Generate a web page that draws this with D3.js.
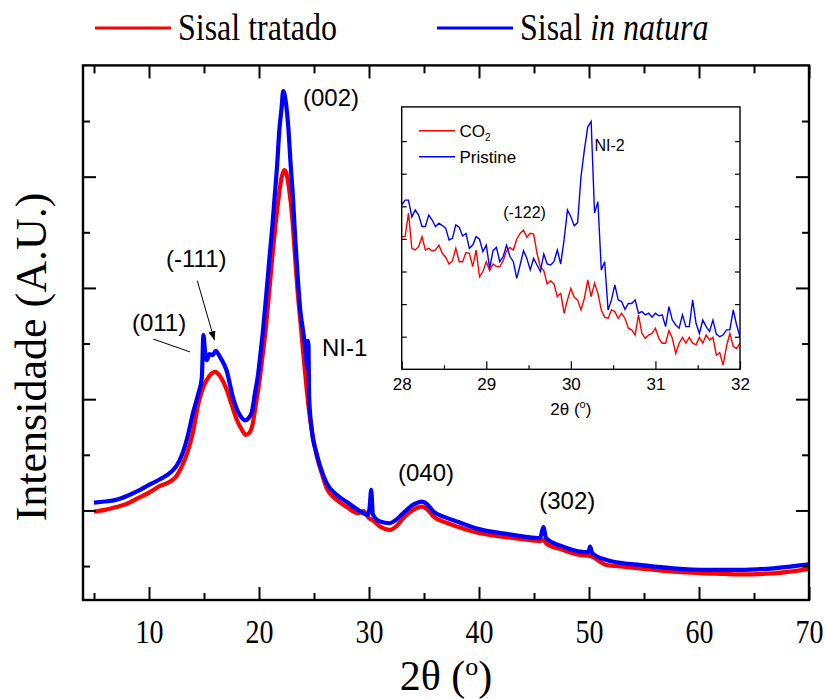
<!DOCTYPE html>
<html>
<head>
<meta charset="utf-8">
<script src="https://cdn.jsdelivr.net/npm/d3@7"></script>
<style>
  html, body { margin: 0; padding: 0; background: #fff; }
  svg { display: block; }
</style>
</head>
<body>
<div id="chart"></div>
<script>
// ---------- Main diffractogram: 2θ (degrees) vs intensity (kcounts) ----------
const tratadoTheta = [5.0, 6.0, 7.0, 8.0, 9.0, 10.0, 11.0, 12.0, 12.5, 13.0, 13.5, 14.0, 14.5, 15.0, 15.5, 16.0, 16.5, 17.0, 17.5, 18.0, 18.5, 18.8, 19.1, 19.4, 19.7, 20.0, 20.3, 20.6, 20.9, 21.2, 21.5, 21.8, 22.05, 22.3, 22.5, 22.75, 23.0, 23.25, 23.5, 23.75, 24.0, 24.3, 24.6, 24.9, 25.3, 25.7, 26.15, 27.0, 28.0, 29.0, 29.5, 30.0, 30.3, 31.0, 31.9, 32.5, 33.1, 34.0, 34.8, 35.3, 35.85, 36.9, 38.0, 40.1, 42.1, 44.1, 45.55, 45.85, 46.1, 47.65, 49.2, 50.1, 51.6, 53.1, 54.6, 57.65, 60.7, 63.7, 66.75, 70.0];
const tratadoIntensity = [1.98, 2.01, 2.06, 2.12, 2.22, 2.32, 2.44, 2.53, 2.62, 2.80, 3.05, 3.41, 3.93, 4.25, 4.42, 4.49, 4.40, 4.20, 3.91, 3.62, 3.43, 3.36, 3.39, 3.53, 3.89, 4.27, 4.74, 5.24, 5.87, 6.54, 7.13, 7.65, 7.98, 8.12, 8.05, 7.76, 7.31, 6.64, 5.96, 5.42, 4.88, 4.25, 3.71, 3.32, 2.94, 2.67, 2.40, 2.20, 2.06, 1.95, 1.99, 1.86, 1.83, 1.71, 1.65, 1.72, 1.86, 2.01, 2.07, 2.02, 1.89, 1.79, 1.71, 1.59, 1.53, 1.48, 1.45, 1.47, 1.41, 1.29, 1.20, 1.18, 1.02, 0.99, 0.96, 0.90, 0.87, 0.85, 0.87, 0.95];

const naturaTheta = [5.0, 6.0, 7.0, 8.0, 9.0, 10.0, 11.0, 12.0, 12.5, 13.0, 13.5, 14.0, 14.5, 14.8, 14.95, 15.1, 15.25, 15.5, 15.8, 16.05, 16.45, 17.05, 17.65, 18.1, 18.45, 18.75, 19.05, 19.35, 19.65, 19.9, 20.15, 20.35, 20.65, 20.95, 21.2, 21.4, 21.65, 21.85, 22.05, 22.2, 22.3, 22.45, 22.65, 22.85, 23.1, 23.3, 23.55, 23.75, 24.0, 24.25, 24.4, 24.45, 24.5, 24.55, 24.8, 25.2, 25.55, 26.15, 27.0, 28.0, 29.0, 29.9, 30.05, 30.2, 30.35, 31.0, 31.9, 32.45, 33.1, 34.0, 34.8, 35.3, 35.85, 36.9, 38.0, 40.1, 42.1, 44.1, 45.55, 45.85, 46.1, 47.65, 49.2, 49.95, 50.1, 50.3, 51.6, 53.1, 54.6, 57.65, 60.7, 63.7, 66.75, 70.0];
const naturaIntensity = [2.14, 2.16, 2.19, 2.26, 2.35, 2.46, 2.56, 2.69, 2.80, 3.00, 3.32, 3.75, 4.11, 4.38, 5.15, 4.85, 4.70, 4.81, 4.79, 4.87, 4.76, 4.52, 4.02, 3.77, 3.66, 3.62, 3.66, 3.77, 4.13, 4.42, 4.85, 5.21, 5.85, 6.54, 7.08, 7.58, 8.21, 8.84, 9.23, 9.54, 9.50, 9.32, 8.93, 8.30, 7.58, 6.86, 6.11, 5.60, 5.24, 4.85, 4.56, 5.05, 4.97, 4.07, 3.44, 3.05, 2.80, 2.49, 2.29, 2.15, 2.01, 1.92, 2.04, 2.37, 1.93, 1.80, 1.77, 1.83, 1.95, 2.10, 2.16, 2.11, 1.98, 1.88, 1.80, 1.66, 1.59, 1.53, 1.50, 1.70, 1.50, 1.35, 1.26, 1.25, 1.35, 1.23, 1.11, 1.05, 1.02, 0.96, 0.93, 0.93, 0.96, 1.03];

const seriesNames = ["Sisal tratado", "Sisal in natura"];
const xMajorTicks = [10, 20, 30, 40, 50, 60, 70];
const xMinorTicks = [5, 15, 25, 35, 45, 55, 65];
const yMajorTicks = [2, 4, 6, 8];
const yMinorTicks = [1, 3, 5, 7, 9];

// Reflection labels (text, 2θ, intensity at the text baseline)
const peakLabels = ["(002)", "(-111)", "(011)", "NI-1", "(040)", "(302)"];
const peakLabelTheta = [24.0, 11.55, 8.45, 25.73, 32.64, 45.48];
const peakLabelIntensity = [9.27, 6.38, 5.23, 4.78, 2.53, 2.02];

// ---------- Inset: 28–32° zoom ----------
const insetTheta = [28.00, 28.04, 28.08, 28.12, 28.16, 28.20, 28.24, 28.28, 28.32, 28.36,
  28.40, 28.44, 28.48, 28.52, 28.56, 28.60, 28.64, 28.68, 28.72, 28.76,
  28.80, 28.84, 28.88, 28.92, 28.96, 29.00, 29.04, 29.08, 29.12, 29.16,
  29.20, 29.24, 29.28, 29.32, 29.36, 29.40, 29.44, 29.48, 29.52, 29.56,
  29.60, 29.64, 29.68, 29.72, 29.76, 29.80, 29.84, 29.88, 29.92, 29.96,
  30.00, 30.04, 30.08, 30.12, 30.16, 30.20, 30.24, 30.28, 30.32, 30.36,
  30.40, 30.44, 30.48, 30.52, 30.56, 30.60, 30.64, 30.68, 30.72, 30.76,
  30.80, 30.84, 30.88, 30.92, 30.96, 31.00, 31.04, 31.08, 31.12, 31.16,
  31.20, 31.24, 31.28, 31.32, 31.36, 31.40, 31.44, 31.48, 31.52, 31.56,
  31.60, 31.64, 31.68, 31.72, 31.76, 31.80, 31.84, 31.88, 31.92, 31.96,
  32.00];
const insetCO2 = [4.07, 4.07, 4.79, 3.71, 3.66, 3.76, 4.07, 3.66, 3.71, 3.63,
  3.66, 3.81, 3.56, 3.44, 3.23, 3.33, 3.71, 3.30, 3.30, 3.58,
  3.56, 3.15, 3.66, 2.84, 3.00, 3.30, 3.03, 3.23, 3.15, 3.15,
  3.33, 3.64, 3.74, 3.66, 3.99, 4.17, 4.27, 4.05, 4.17, 4.15,
  3.56, 3.13, 3.03, 2.62, 2.72, 2.62, 2.23, 2.33, 1.72, 2.13,
  2.48, 2.21, 2.13, 1.82, 2.18, 2.74, 2.23, 2.64, 2.33, 1.82,
  1.60, 1.56, 1.82, 1.77, 1.56, 1.72, 1.56, 1.26, 1.21, 1.05,
  1.67, 1.10, 0.95, 1.05, 1.10, 1.26, 0.95, 0.80, 0.80, 1.19,
  0.95, 0.49, 0.80, 0.98, 0.80, 0.98, 0.80, 0.75, 0.98, 0.80,
  1.05, 0.90, 0.98, 0.44, 0.51, 0.13, 0.70, 1.10, 0.70, 0.64,
  0.80];
const insetPristine = [5.04, 5.19, 5.19, 4.68, 4.89, 4.73, 4.38, 4.38, 4.73, 4.58,
  4.38, 4.48, 4.41, 4.33, 3.97, 4.02, 4.43, 4.36, 4.09, 4.17,
  3.71, 3.81, 4.07, 3.99, 3.61, 3.81, 3.10, 3.64, 3.74, 3.30,
  3.46, 3.81, 3.46, 3.30, 2.79, 3.20, 3.64, 3.40, 3.05, 3.40,
  3.20, 3.00, 3.54, 3.23, 3.20, 3.30, 3.66, 3.23, 3.97, 4.89,
  4.68, 4.40, 4.50, 5.91, 6.73, 7.44, 7.60, 4.79, 5.14, 3.05,
  3.30, 1.82, 2.13, 2.59, 2.13, 2.08, 1.84, 2.02, 2.02, 2.13,
  1.72, 1.77, 1.67, 1.72, 1.60, 1.72, 1.64, 1.67, 1.31, 1.92,
  1.51, 1.36, 1.26, 1.67, 1.31, 1.31, 2.13, 1.41, 1.10, 1.51,
  1.31, 1.16, 1.51, 1.08, 1.00, 1.05, 1.21, 1.21, 1.82, 1.36,
  1.00];
const insetXTicks = [28, 29, 30, 31, 32];
const insetXMinor = [28.5, 29.5, 30.5, 31.5];
const insetYTicks = [1, 2, 3, 4, 5, 6, 7];
const insetLabels = ["(-122)", "NI-2"];
const insetLabelTheta = [29.20, 30.28];
const insetLabelIntensity = [4.64, 6.71];

// ---------- Drawing ----------
const W = 825, H = 699;
const RED = "#ff0000", BLUE = "#0000ff";
const SERIF = "'Liberation Serif', 'Times New Roman', Times, serif";
const SANS = "'Liberation Sans', Arial, Helvetica, sans-serif";
const SERIF_STRETCH = 1.2;   // serif lettering is drawn a little taller than wide

const svg = d3.select("#chart").append("svg")
  .attr("width", W).attr("height", H)
  .attr("viewBox", `0 0 ${W} ${H}`);

const plot = { left: 83, right: 809, top: 65.4, bottom: 600 };
const x = d3.scaleLinear().domain([4, 70]).range([plot.left, plot.right]);
const y = d3.scaleLinear().domain([0.39, 10]).range([plot.bottom, plot.top]);

const zip = (xs, ys) => xs.map((v, i) => [v, ys[i]]);
const mainLine = d3.line().x(d => x(d[0])).y(d => y(d[1])).curve(d3.curveMonotoneX);

// curves: treated first, untreated on top
svg.append("path").datum(zip(tratadoTheta, tratadoIntensity))
  .attr("d", mainLine).attr("fill", "none").attr("stroke", RED)
  .attr("stroke-width", 4.2).attr("stroke-linejoin", "round");
svg.append("path").datum(zip(naturaTheta, naturaIntensity))
  .attr("d", mainLine).attr("fill", "none").attr("stroke", BLUE)
  .attr("stroke-width", 4.2).attr("stroke-linejoin", "round");

// axes with inward major/minor ticks on all four sides
function tickAxis(axisFn, scale, values, size, translate, labels) {
  const ax = axisFn(scale).tickValues(values).tickSize(-size)
    .tickFormat(labels ? d3.format("d") : "");
  const g = svg.append("g").attr("transform", translate).call(ax);
  g.select(".domain").remove();
  g.selectAll(".tick line").attr("stroke", "#000").attr("stroke-width", 2);
  return g;
}
const bx = tickAxis(d3.axisBottom, x, xMajorTicks, 13, `translate(0,${plot.bottom})`, true);
bx.selectAll(".tick text").attr("font-family", SERIF).attr("font-size", 28)
  .attr("fill", "#000").attr("dy", 0).attr("y", 0)
  .attr("transform", `translate(0,43) scale(1,${SERIF_STRETCH})`);
tickAxis(d3.axisBottom, x, xMinorTicks, 7, `translate(0,${plot.bottom})`, false);
tickAxis(d3.axisTop, x, xMajorTicks, 13, `translate(0,${plot.top})`, false);
tickAxis(d3.axisTop, x, xMinorTicks, 8, `translate(0,${plot.top})`, false);
tickAxis(d3.axisLeft, y, yMajorTicks, 13, `translate(${plot.left},0)`, false);
tickAxis(d3.axisLeft, y, yMinorTicks, 7, `translate(${plot.left},0)`, false);
tickAxis(d3.axisRight, y, yMajorTicks, 13, `translate(${plot.right},0)`, false);
tickAxis(d3.axisRight, y, yMinorTicks, 7, `translate(${plot.right},0)`, false);

svg.append("rect")
  .attr("x", plot.left).attr("y", plot.top)
  .attr("width", plot.right - plot.left).attr("height", plot.bottom - plot.top)
  .attr("fill", "none").attr("stroke", "#000").attr("stroke-width", 2.4);

// axis titles
const xt = svg.append("text")
  .attr("x", (plot.left + plot.right) / 2).attr("y", 690)
  .attr("text-anchor", "middle").attr("font-family", SERIF).attr("font-size", 42);
xt.append("tspan").text("2θ (");
xt.append("tspan").attr("font-size", 26).attr("dy", -15).text("o");
xt.append("tspan").attr("dy", 15).text(")");

svg.append("text")
  .attr("transform", `translate(46,357) rotate(-90)`)
  .attr("text-anchor", "middle").attr("font-family", SERIF).attr("font-size", 44)
  .text("Intensidade (A.U.)");

// legend above the frame
const legend = [
  { name: seriesNames[0], color: RED, x0: 95 },
  { name: seriesNames[1], color: BLUE, x0: 437 }
];
legend.forEach((d, i) => {
  svg.append("line").attr("x1", d.x0).attr("x2", d.x0 + 76).attr("y1", 28).attr("y2", 28)
    .attr("stroke", d.color).attr("stroke-width", 3);
  const t = svg.append("text")
    .attr("transform", `translate(${d.x0 + 83},40) scale(1,${SERIF_STRETCH})`)
    .attr("font-family", SERIF).attr("font-size", 32);
  if (i === 0) {
    t.text(d.name);
  } else {
    t.append("tspan").text("Sisal ");
    t.append("tspan").attr("font-style", "italic").text("in natura");
  }
});

// reflection labels
peakLabels.forEach((lab, i) => {
  svg.append("text").attr("x", x(peakLabelTheta[i])).attr("y", y(peakLabelIntensity[i]))
    .attr("font-family", SANS).attr("font-size", 24).attr("fill", "#000").text(lab);
});

// leader line for (011) and arrow for (-111)
svg.append("line")
  .attr("x1", x(10.39)).attr("y1", y(5.08)).attr("x2", x(13.73)).attr("y2", y(4.85))
  .attr("stroke", "#000").attr("stroke-width", 1);
svg.append("defs").append("marker").attr("id", "arrowHead")
  .attr("viewBox", "0 0 10 10").attr("refX", 10).attr("refY", 5)
  .attr("markerWidth", 9).attr("markerHeight", 9).attr("markerUnits", "userSpaceOnUse")
  .attr("orient", "auto")
  .append("path").attr("d", "M0,1 L10,5 L0,9 Z").attr("fill", "#000");
svg.append("line")
  .attr("x1", x(14.39)).attr("y1", y(6.13)).attr("x2", x(15.95)).attr("y2", y(5.06))
  .attr("stroke", "#000").attr("stroke-width", 1).attr("marker-end", "url(#arrowHead)");

// ---------- Inset ----------
const ib = { left: 401.7, right: 740, top: 106.9, bottom: 369.3 };
const ix = d3.scaleLinear().domain([28, 32]).range([ib.left, ib.right]);
const iy = d3.scaleLinear().domain([0, 8.05]).range([ib.bottom, ib.top]);

svg.append("rect").attr("x", ib.left).attr("y", ib.top)
  .attr("width", ib.right - ib.left).attr("height", ib.bottom - ib.top)
  .attr("fill", "#fff");

svg.append("clipPath").attr("id", "insetClip").append("rect")
  .attr("x", ib.left).attr("y", ib.top)
  .attr("width", ib.right - ib.left).attr("height", ib.bottom - ib.top);

const insetLine = d3.line().x(d => ix(d[0])).y(d => iy(d[1]));
const ig = svg.append("g").attr("clip-path", "url(#insetClip)");
ig.append("path").datum(zip(insetTheta, insetCO2)).attr("d", insetLine)
  .attr("fill", "none").attr("stroke", RED).attr("stroke-width", 1.4);
ig.append("path").datum(zip(insetTheta, insetPristine)).attr("d", insetLine)
  .attr("fill", "none").attr("stroke", BLUE).attr("stroke-width", 1.4);

function insetAxis(axisFn, scale, values, size, translate, labels) {
  const ax = axisFn(scale).tickValues(values).tickSize(-size)
    .tickFormat(labels ? d3.format("d") : "");
  const g = svg.append("g").attr("transform", translate).call(ax);
  g.select(".domain").remove();
  g.selectAll(".tick line").attr("stroke", "#000").attr("stroke-width", 1.2);
  return g;
}
const ibx = insetAxis(d3.axisBottom, ix, insetXTicks, 8, `translate(0,${ib.bottom})`, true);
ibx.selectAll(".tick text").attr("font-family", SANS).attr("font-size", 17)
  .attr("fill", "#000").attr("dy", 0).attr("y", 21);
insetAxis(d3.axisBottom, ix, insetXMinor, 4, `translate(0,${ib.bottom})`, false);
insetAxis(d3.axisLeft, iy, insetYTicks, 5, `translate(${ib.left},0)`, false);
insetAxis(d3.axisRight, iy, insetYTicks, 5, `translate(${ib.right},0)`, false);

svg.append("rect").attr("x", ib.left).attr("y", ib.top)
  .attr("width", ib.right - ib.left).attr("height", ib.bottom - ib.top)
  .attr("fill", "none").attr("stroke", "#000").attr("stroke-width", 1.4);

const ixt = svg.append("text").attr("x", (ib.left + ib.right) / 2).attr("y", 415)
  .attr("text-anchor", "middle").attr("font-family", SANS).attr("font-size", 17);
ixt.append("tspan").text("2θ (");
ixt.append("tspan").attr("font-size", 11).attr("dy", -7).text("o");
ixt.append("tspan").attr("dy", 7).text(")");

// inset legend
const insetLegend = [
  { color: RED, y0: 130.7, label: "CO", sub: "2" },
  { color: BLUE, y0: 156.7, label: "Pristine", sub: null }
];
insetLegend.forEach(d => {
  svg.append("line").attr("x1", 419).attr("x2", 455).attr("y1", d.y0).attr("y2", d.y0)
    .attr("stroke", d.color).attr("stroke-width", 1.4);
  const t = svg.append("text").attr("x", 459.5).attr("y", d.y0 + 6)
    .attr("font-family", SANS).attr("font-size", 17);
  t.append("tspan").text(d.label);
  if (d.sub) t.append("tspan").attr("font-size", 10).attr("dy", 4).text(d.sub);
});

insetLabels.forEach((lab, i) => {
  svg.append("text").attr("x", ix(insetLabelTheta[i])).attr("y", iy(insetLabelIntensity[i]))
    .attr("font-family", SANS).attr("font-size", 16).text(lab);
});
</script>
</body>
</html>
